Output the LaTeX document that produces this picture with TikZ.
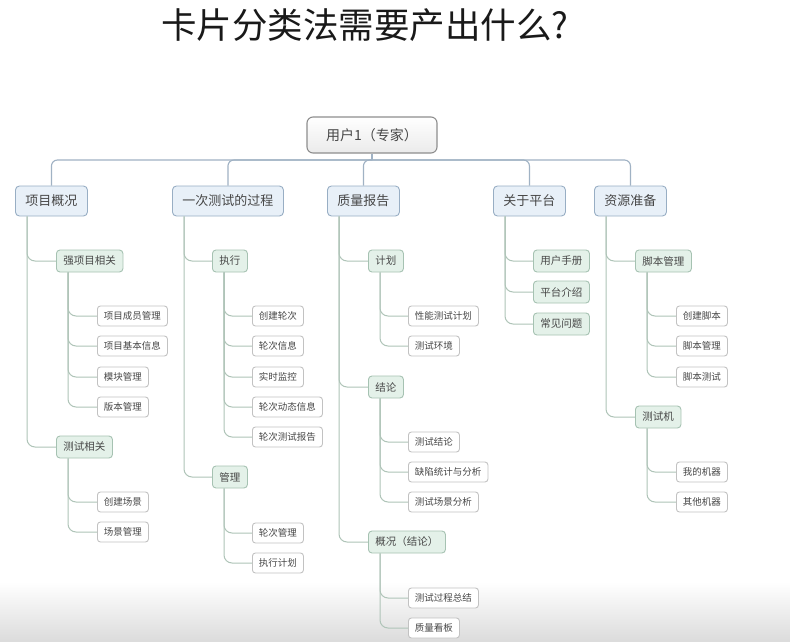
\documentclass[tikz,border=0pt]{standalone}
\usepackage{fontspec}
\setmainfont{Noto Sans CJK SC}
\definecolor{txt}{HTML}{474747}
\definecolor{lonefill}{HTML}{E8F0F8}
\definecolor{loneline}{HTML}{98AEC4}
\definecolor{ltwofill}{HTML}{E4F1E9}
\definecolor{ltwoline}{HTML}{A6C2B2}
\definecolor{leafline}{HTML}{C2C2C2}
\definecolor{topline}{HTML}{A0B2C4}
\definecolor{subline}{HTML}{AFC4B8}
\definecolor{rootline}{HTML}{8E8E8E}
\tikzset{
  rootbox/.style={draw=rootline, line width=1.1pt, rounded corners=6pt, top color=white, bottom color=black!8,
    minimum width=130pt, minimum height=36pt, font=\fontsize{14}{16}\selectfont, text=txt},
  lone/.style={draw=loneline, line width=0.9pt, fill=lonefill, rounded corners=4pt, anchor=west,
    minimum height=30pt, inner xsep=10pt, font=\fontsize{13}{15}\selectfont, text=txt},
  ltwo/.style={draw=ltwoline, line width=0.9pt, fill=ltwofill, rounded corners=3.5pt, anchor=west,
    minimum height=22pt, inner xsep=7pt, font=\fontsize{10.5}{12}\selectfont, text=txt},
  leaf/.style={draw=leafline, line width=0.9pt, fill=white, rounded corners=3pt, anchor=west,
    minimum height=20pt, inner xsep=6.5pt, font=\fontsize{9.5}{11}\selectfont, text=txt},
  tk/.style={draw=topline, line width=1.1pt, rounded corners=6pt},
  lk/.style={draw=subline, line width=1pt, rounded corners=8pt},
}
\newcommand{\branch}[2]{\draw[lk] ([xshift=12pt]#1.south west) |- (#2.west);}
\begin{document}
\begin{tikzpicture}[x=1pt,y=-1pt]
\useasboundingbox (0,0) rectangle (790,642);
\fill[white] (0,0) rectangle (790,642);
\shade[top color=white, bottom color=black!14] (0,582) rectangle (790,642);

\node[text=black!90, font=\fontsize{35.5}{38}\selectfont] (title) at (365,25) {卡片分类法需要产出什么?};

\node[rootbox] (r) at (372,135) {用户1（专家）};
\coordinate (bar) at (372,160);

% level 1
\node[lone] (a) at (15,201) {项目概况};
\node[lone] (b) at (172,201) {一次测试的过程};
\node[lone] (c) at (327,201) {质量报告};
\node[lone] (d) at (493,201) {关于平台};
\node[lone] (e) at (594,201) {资源准备};

\draw[tk] (r.south) -- (bar);
\foreach \n in {a,b,c,d,e} { \draw[tk] (bar) -| (\n.north); }

% column a
\node[ltwo] (a1) at (56,261) {强项目相关};
\node[leaf] (a11) at (97,316) {项目成员管理};
\node[leaf] (a12) at (97,346) {项目基本信息};
\node[leaf] (a13) at (97,377) {模块管理};
\node[leaf] (a14) at (97,407) {版本管理};
\node[ltwo] (a2) at (56,447) {测试相关};
\node[leaf] (a21) at (97,502) {创建场景};
\node[leaf] (a22) at (97,532) {场景管理};
\branch{a}{a1}\branch{a}{a2}
\branch{a1}{a11}\branch{a1}{a12}\branch{a1}{a13}\branch{a1}{a14}
\branch{a2}{a21}\branch{a2}{a22}

% column b
\node[ltwo] (b1) at (212,261) {执行};
\node[leaf] (b11) at (252,316) {创建轮次};
\node[leaf] (b12) at (252,346) {轮次信息};
\node[leaf] (b13) at (252,377) {实时监控};
\node[leaf] (b14) at (252,407) {轮次动态信息};
\node[leaf] (b15) at (252,437) {轮次测试报告};
\node[ltwo] (b2) at (212,477) {管理};
\node[leaf] (b21) at (252,533) {轮次管理};
\node[leaf] (b22) at (252,563) {执行计划};
\branch{b}{b1}\branch{b}{b2}
\branch{b1}{b11}\branch{b1}{b12}\branch{b1}{b13}\branch{b1}{b14}\branch{b1}{b15}
\branch{b2}{b21}\branch{b2}{b22}

% column c
\node[ltwo] (c1) at (368,261) {计划};
\node[leaf] (c11) at (408,316) {性能测试计划};
\node[leaf] (c12) at (408,346) {测试环境};
\node[ltwo] (c2) at (368,387) {结论};
\node[leaf] (c21) at (408,442) {测试结论};
\node[leaf] (c22) at (408,472) {缺陷统计与分析};
\node[leaf] (c23) at (408,502) {测试场景分析};
\node[ltwo] (c3) at (368,542) {概况（结论）};
\node[leaf] (c31) at (408,598) {测试过程总结};
\node[leaf] (c32) at (408,628) {质量看板};
\branch{c}{c1}\branch{c}{c2}\branch{c}{c3}
\branch{c1}{c11}\branch{c1}{c12}
\branch{c2}{c21}\branch{c2}{c22}\branch{c2}{c23}
\branch{c3}{c31}\branch{c3}{c32}

% column d
\node[ltwo] (d1) at (533,261) {用户手册};
\node[ltwo] (d2) at (533,292) {平台介绍};
\node[ltwo] (d3) at (533,324) {常见问题};
\branch{d}{d1}\branch{d}{d2}\branch{d}{d3}

% column e
\node[ltwo] (e1) at (635,261) {脚本管理};
\node[leaf] (e11) at (676,316) {创建脚本};
\node[leaf] (e12) at (676,346) {脚本管理};
\node[leaf] (e13) at (676,377) {脚本测试};
\node[ltwo] (e2) at (635,417) {测试机};
\node[leaf] (e21) at (676,472) {我的机器};
\node[leaf] (e22) at (676,502) {其他机器};
\branch{e}{e1}\branch{e}{e2}
\branch{e1}{e11}\branch{e1}{e12}\branch{e1}{e13}
\branch{e2}{e21}\branch{e2}{e22}
\end{tikzpicture}
\end{document}
